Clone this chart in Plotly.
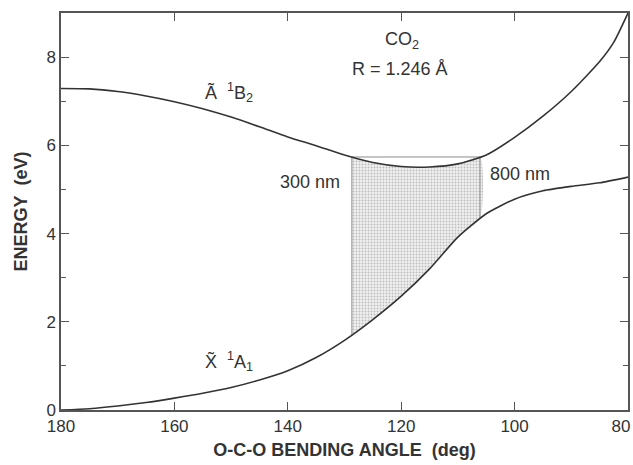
import numpy as np
import plotly.graph_objects as go

# ---- data ----
upper_angle = [180, 175, 170, 165, 160, 155, 150, 145, 140, 135, 130, 125, 120, 115, 110, 105, 100, 95, 90, 85, 82.5, 80]
upper_energy = [7.29, 7.28, 7.22, 7.12, 6.99, 6.83, 6.64, 6.42, 6.19, 5.99, 5.78, 5.61, 5.52, 5.51, 5.58, 5.78, 6.18, 6.66, 7.22, 7.90, 8.34, 9.0]

lower_angle = [180, 175, 170, 165, 160, 155, 150, 145, 140, 135, 130, 125, 120, 115, 110, 105, 100, 95, 90, 85, 80]
lower_energy = [0.0, 0.03, 0.09, 0.17, 0.27, 0.38, 0.51, 0.68, 0.89, 1.19, 1.58, 2.05, 2.58, 3.20, 3.92, 4.45, 4.78, 4.97, 5.07, 5.15, 5.28]

shade_bounds = [128.7, 106.1]   # 300 nm and 800 nm edges (deg)

x_ticks = [180, 160, 140, 120, 100, 80]
x_tick_labels = ["180", "160", "140", "120", "100", "80"]
y_ticks = [0, 2, 4, 6, 8]
y_tick_labels = ["0", "2", "4", "6", "8"]

FONT = "Liberation Sans, Arial, Helvetica, sans-serif"
TXT = "#333333"
AX = "#555555"

ua = np.array(upper_angle, float)
ue = np.array(upper_energy, float)
la = np.array(lower_angle, float)
le = np.array(lower_energy, float)

def interp(a, xs, ys):
    return float(np.interp(a, xs[::-1], ys[::-1]))

hi, lo = shade_bounds
u_in = ua[(ua < hi) & (ua > lo)]
l_in = la[(la < hi) & (la > lo)]
poly_x = [hi] + list(u_in) + [lo] + [lo] + list(l_in[::-1]) + [hi]
poly_y = ([interp(hi, ua, ue)] + [interp(a, ua, ue) for a in u_in] + [interp(lo, ua, ue)]
          + [interp(lo, la, le)] + [interp(a, la, le) for a in l_in[::-1]] + [interp(hi, la, le)])

top_hi = interp(hi, ua, ue)
top_lo = interp(lo, ua, ue)

fig = go.Figure()

# shaded region
fig.add_trace(go.Scatter(
    x=poly_x, y=poly_y, mode="lines", fill="toself",
    line=dict(width=0, color="rgba(0,0,0,0)", shape="spline", smoothing=0.6),
    fillcolor="rgba(0,0,0,0)",
    fillpattern=dict(shape=".", fgcolor="#8a8a8a", bgcolor="#f0f0f0", size=3, solidity=0.32),
    hoverinfo="skip", showlegend=False))

# gray outline (verticals + horizontal top)
fig.add_trace(go.Scatter(
    x=[hi, hi, lo, lo],
    y=[interp(hi, la, le), top_hi, top_lo, interp(lo, la, le)],
    mode="lines", line=dict(color="#8c8c8c", width=1),
    hoverinfo="skip", showlegend=False))

# curves
fig.add_trace(go.Scatter(x=upper_angle, y=upper_energy, mode="lines",
                         line=dict(color="#333333", width=1.6, shape="spline", smoothing=0.6),
                         showlegend=False))
fig.add_trace(go.Scatter(x=lower_angle, y=lower_energy, mode="lines",
                         line=dict(color="#333333", width=1.6, shape="spline", smoothing=0.6),
                         showlegend=False))

ann = dict(showarrow=False, font=dict(family=FONT, size=18, color=TXT), xref="x", yref="y")
fig.add_annotation(x=150.4, y=7.2, text="A\u0303  <sup>1</sup>B<sub>2</sub>", **ann)
fig.add_annotation(x=150.4, y=1.1, text="X\u0303  <sup>1</sup>A<sub>1</sub>", **ann)
fig.add_annotation(x=119.9, y=8.37, text="CO<sub>2</sub>", **ann)
fig.add_annotation(x=120.2, y=7.74, text="R = 1.246 Å", **ann)
fig.add_annotation(x=136.1, y=5.18, text="300 nm", **ann)
fig.add_annotation(x=99.0, y=5.34, text="800 nm", **ann)

# last label sits at the frame edge; pad it so it stays inside the page
x_text = [t if v != x_ticks[-1] else t + "\u00a0\u00a0\u00a0" for v, t in zip(x_ticks, x_tick_labels)]

fig.update_xaxes(
    range=[180, 80], tickvals=x_ticks, ticktext=x_text,
    ticks="inside", ticklen=8, tickwidth=1, tickcolor=AX,
    showline=True, linecolor=AX, linewidth=1.5, mirror="ticks",
    showgrid=False, zeroline=False, automargin=False, ticklabeloverflow="allow",
    tickfont=dict(family=FONT, size=17, color=TXT),
    title=dict(text="<b>O-C-O BENDING ANGLE\u00a0 (deg)</b>", font=dict(family=FONT, size=18, color=TXT), standoff=8),
)
fig.update_yaxes(
    range=[0, 9], tickvals=y_ticks, ticktext=y_tick_labels,
    ticks="inside", ticklen=8, tickwidth=1, tickcolor=AX,
    minor=dict(dtick=1, tick0=1, ticks="inside", ticklen=5, tickcolor=AX, showgrid=False),
    showline=True, linecolor=AX, linewidth=1.5, mirror="ticks",
    showgrid=False, zeroline=False, automargin=False,
    tickfont=dict(family=FONT, size=17, color=TXT),
    title=dict(text="<b>ENERGY\u00a0 (eV)</b>", font=dict(family=FONT, size=18, color=TXT), standoff=14),
)

fig.update_layout(
    width=633, height=465,
    margin=dict(l=61, r=5, t=13, b=55),
    paper_bgcolor="white", plot_bgcolor="white",
    showlegend=False,
)

fig.write_html("out.html", config={"displayModeBar": False},
               post_script="document.body.style.margin='0';document.body.style.overflow='hidden';")
